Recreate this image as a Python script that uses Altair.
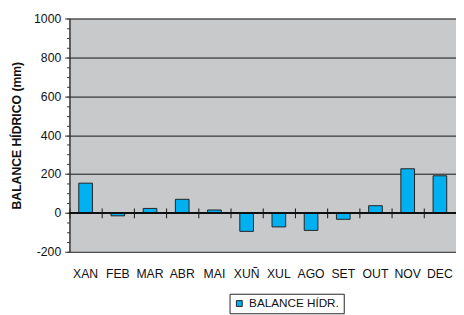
import altair as alt
import pandas as pd

months = ["XAN", "FEB", "MAR", "ABR", "MAI", "XUÑ", "XUL", "AGO", "SET", "OUT", "NOV", "DEC"]
balance = [153, -15, 23, 70, 15, -95, -72, -90, -33, 37, 227, 191]
series_name = "BALANCE HÍDR."
y_title = "BALANCE HÍDRICO (mm)"
major_ticks = list(range(-200, 1001, 200))
minor_ticks = list(range(-200, 1001, 50))

df = pd.DataFrame({"mes": months, "valor": balance, "serie": [series_name] * len(months)})

FONT = "Liberation Sans"
PLOT_W = 396
PLOT_H = 239
zero_off = PLOT_H * 200 / 1200

y_scale = alt.Scale(domain=[-200, 1000], nice=False, zero=False)
x_scale = alt.Scale(domain=months, paddingInner=0, paddingOuter=0)

bars = alt.Chart(df).mark_bar(size=14, stroke="#222222", strokeWidth=1).encode(
    x=alt.X("mes:N", sort=months, scale=x_scale, title=None,
            axis=alt.Axis(orient="bottom", labelAngle=0, ticks=False, domain=False,
                          labelPadding=16, labelFont=FONT, labelFontSize=12.5,
                          labelColor="#111111", grid=False)),
    y=alt.Y("valor:Q", scale=y_scale, title=y_title,
            axis=alt.Axis(orient="left", values=major_ticks,
                          labelExpr="'' + datum.value",
                          labelOverlap=False, labelFlush=False,
                          labelFont=FONT, labelFontSize=12.5, labelColor="#111111",
                          labelPadding=4, tickSize=5, tickColor="#333333",
                          domainColor="#333333", domainWidth=1.5,
                          grid=True, gridColor="#111111", gridOpacity=1,
                          titleFont=FONT, titleFontSize=12.5, titleFontWeight="bold",
                          titleColor="#111111", titlePadding=10)),
    color=alt.Color("serie:N", scale=alt.Scale(range=["#00B0F0"]),
                    legend=alt.Legend(title=None, orient="none", legendX=164, legendY=282,
                                      strokeColor="#222222", padding=4, fillColor="white",
                                      symbolType="square", symbolSize=36,
                                      symbolStrokeColor="#222222", symbolStrokeWidth=1,
                                      labelFont=FONT, labelFontSize=12, labelColor="#111111",
                                      labelOffset=4)),
)

zero_ticks = alt.Chart(df).mark_rule(opacity=0).encode(
    x=alt.X("mes:N", sort=months, scale=x_scale, title=None,
            axis=alt.Axis(orient="bottom", labels=False, domain=False, ticks=True,
                          tickBand="extent", tickSize=10, tickColor="#111111",
                          offset=-(zero_off + 5), grid=False)),
    y=alt.YDatum(0, axis=None),
)

zero_line = alt.Chart(df).mark_rule(color="#111111", strokeWidth=1).encode(
    y=alt.YDatum(0, title=None,
                 axis=alt.Axis(orient="left", values=minor_ticks, labels=False,
                               domain=False, grid=False, tickSize=3,
                               tickColor="#333333", title=None)),
)

chart = alt.layer(bars, zero_ticks, zero_line).resolve_axis(
    x="independent", y="independent"
).properties(
    width=PLOT_W, height=PLOT_H,
    autosize=alt.AutoSizeParams(type="none"),
    padding={"left": 63, "top": 7, "right": 0, "bottom": 61},
    background="white",
).configure_view(fill="#C8C9CB", stroke=None)

chart.save("out.html", embed_options={"renderer": "svg", "actions": False})
